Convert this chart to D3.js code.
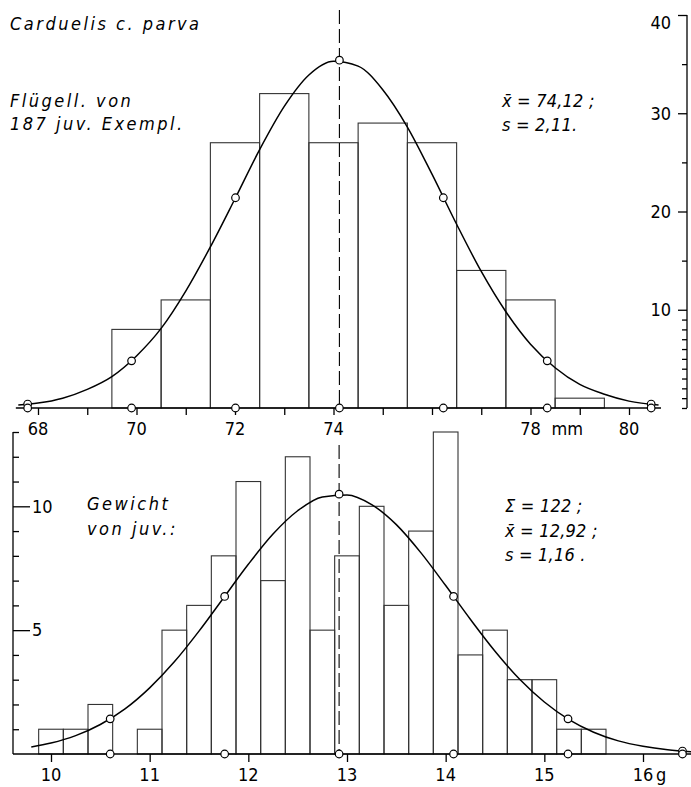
<!DOCTYPE html>
<meta charset='utf-8'>
<style>
body { margin: 0; background: #fff; }
svg { display: block; }
.bar { fill: none; stroke: #333; stroke-width: 1.1; }
.curve { fill: none; stroke: #000; stroke-width: 1.5; }
.dot { fill: #fff; stroke: #000; stroke-width: 1.2; }
.mean { stroke: #000; stroke-width: 1.1; stroke-dasharray: 14 5; }
.base { stroke: #000; stroke-width: 1.4; }
.axis path { display: none; }
.axis line { stroke: #000; stroke-width: 1.3; }
.axis text, .lbl { font-family: 'Liberation Sans Narrow', 'DejaVu Sans Condensed', sans-serif; font-size: 18px; fill: #000; }
.note { font-family: 'Liberation Sans Narrow', 'DejaVu Sans Condensed', sans-serif; font-style: italic; font-size: 18px; letter-spacing: 2.5px; fill: #000; }
.formula { letter-spacing: 0.2px; }
</style>
<svg width='691' height='787'></svg>
<script src='https://cdnjs.cloudflare.com/ajax/libs/d3/7.8.5/d3.min.js'></script>
<script>

// wing length histogram (mm), bin centres and counts
var wingBins = [70, 71, 72, 73, 74, 75, 76, 77, 78, 79],
    wingCounts = [8, 11, 27, 32, 27, 29, 27, 14, 11, 1],
    wingMean = 74.12;

// fitted curve
var wingCurveX = [67.6, 68, 68.5, 69, 69.5, 70, 70.5, 71, 71.5, 72, 72.5, 73, 73.5, 74, 74.5,
                  75, 75.5, 76, 76.5, 77, 77.5, 78, 78.5, 79, 79.5, 80, 80.6],
    wingCurveY = [0.3, 0.5, 1.0, 1.9, 3.2, 5.3, 8.1, 11.9, 16.4, 21.3, 26.3, 30.7, 33.9, 35.3, 34.8,
                  32.4, 28.6, 23.8, 18.7, 13.9, 9.8, 6.5, 4.1, 2.4, 1.4, 0.7, 0.3];
var wingDotX = [67.79, 69.9, 72.01, 74.12, 76.23, 78.34, 80.45],
    wingDotY = [0.4, 4.8, 21.4, 35.4, 21.4, 4.8, 0.4];

var wingTicks = [68, 69, 70, 71, 72, 73, 74, 75, 76, 77, 78, 79, 80],
    wingLabels = [68, 70, 72, 74, 78, 80],
    wingYMajor = [10, 20, 30, 40],
    wingYMinor = [0, 1, 2, 3, 4, 5, 6, 7, 8, 9, 15, 25, 35];

// weight histogram (g)
var weightBins = [10, 10.25, 10.5, 10.75, 11, 11.25, 11.5, 11.75, 12, 12.25, 12.5, 12.75,
                  13, 13.25, 13.5, 13.75, 14, 14.25, 14.5, 14.75, 15, 15.25, 15.5],
    weightCounts = [1, 1, 2, 0, 1, 5, 6, 8, 11, 7, 12, 5, 8, 10, 6, 9, 13, 4, 5, 3, 3, 1, 1],
    weightMean = 12.92;

var weightCurveX = [9.8, 10, 10.25, 10.5, 10.75, 11, 11.25, 11.5, 11.75, 12, 12.25, 12.5, 12.75, 13,
                    13.25, 13.5, 13.75, 14, 14.25, 14.5, 14.75, 15, 15.25, 15.5, 15.75, 16, 16.25, 16.5],
    weightCurveY = [0.28, 0.44, 0.74, 1.19, 1.82, 2.67, 3.72, 4.96, 6.31, 7.66, 8.88, 9.82, 10.38, 10.46,
                    10.07, 9.26, 8.12, 6.8, 5.44, 4.15, 3.02, 2.1, 1.39, 0.88, 0.53, 0.31, 0.17, 0.09];
var weightDotX = [10.6, 11.76, 12.92, 14.08, 15.24, 16.4],
    weightDotY = [1.42, 6.36, 10.49, 6.36, 1.42, 0.12];

var weightTicks = [10, 11, 12, 13, 14, 15, 16],
    weightYMajor = [5, 10],
    weightYMinor = [1, 2, 3, 4, 6, 7, 8, 9, 11, 12, 13];

var svg = d3.select('svg');

// ---------- upper panel ----------
const xTop = d3.scaleLinear().domain([68, 80]).range([38, 629]),
    yTop = d3.scaleLinear().domain([0, 40]).range([408, 15]);

const upper = svg.append('g');

upper.selectAll('rect')
    .data(wingBins)
    .enter().append('rect')
    .attr('class', 'bar')
    .attr('x', d => xTop(d - 0.5))
    .attr('width', xTop(1) - xTop(0))
    .attr('y', (d, i) => yTop(wingCounts[i]))
    .attr('height', (d, i) => yTop(0) - yTop(wingCounts[i]));

upper.append('line').attr('class', 'mean')
    .attr('x1', xTop(wingMean)).attr('x2', xTop(wingMean))
    .attr('y1', 10).attr('y2', yTop(0));

upper.append('line').attr('class', 'base')
    .attr('x1', xTop(67.55)).attr('x2', xTop(80.65))
    .attr('y1', yTop(0)).attr('y2', yTop(0));

upper.append('path').attr('class', 'curve')
    .attr('d', d3.line().curve(d3.curveMonotoneX)
        .x(d => xTop(d))
        .y((d, i) => yTop(wingCurveY[i]))(wingCurveX));

upper.append('g').attr('class', 'axis')
    .attr('transform', `translate(0,${yTop(0)})`)
    .call(d3.axisBottom(xTop).tickValues(wingTicks).tickSize(7).tickFormat(''));

upper.selectAll('.xl')
    .data(wingLabels)
    .enter().append('text')
    .attr('class', 'lbl')
    .attr('x', d => xTop(d))
    .attr('y', 435)
    .attr('text-anchor', 'middle')
    .text(d => d);
upper.append('text').attr('class', 'lbl')
    .attr('x', xTop(78) + 21).attr('y', 435)
    .text('mm');

const rightAxis = upper.append('g').attr('class', 'axis')
    .attr('transform', 'translate(687,0)');
rightAxis.call(d3.axisLeft(yTop).tickValues(wingYMinor).tickSize(5).tickFormat(''));
rightAxis.append('g').call(d3.axisLeft(yTop).tickValues(wingYMajor).tickSize(9).tickPadding(7));
rightAxis.selectAll('text').filter(d => d === 40).attr('dy', '0.75em');
rightAxis.append('line').attr('y1', yTop(40)).attr('y2', yTop(0));

upper.selectAll('.dc')
    .data(wingDotX)
    .enter().append('circle')
    .attr('class', 'dot')
    .attr('r', 3.8)
    .attr('cx', d => xTop(d))
    .attr('cy', (d, i) => yTop(wingDotY[i]));
upper.selectAll('.db')
    .data(wingDotX)
    .enter().append('circle')
    .attr('class', 'dot')
    .attr('r', 3.8)
    .attr('cx', d => xTop(d))
    .attr('cy', yTop(0));

upper.append('text').attr('class', 'note').attr('x', 10).attr('y', 30).text('Carduelis c. parva');
upper.append('text').attr('class', 'note').attr('x', 10).attr('y', 107).text('Flügell. von');
upper.append('text').attr('class', 'note').attr('x', 10).attr('y', 130).text('187 juv. Exempl.');
upper.append('text').attr('class', 'note formula').attr('x', 502).attr('y', 107).text('x̄ = 74,12 ;');
upper.append('text').attr('class', 'note formula').attr('x', 502).attr('y', 131).text('s = 2,11.');

// ---------- lower panel ----------
const xBot = d3.scaleLinear().domain([10, 16]).range([51, 643]),
    yBot = d3.scaleLinear().domain([0, 13]).range([754, 432]);

const lower = svg.append('g');

lower.selectAll('rect')
    .data(weightBins)
    .enter().append('rect')
    .attr('class', 'bar')
    .attr('x', d => xBot(d - 0.125))
    .attr('width', xBot(0.25) - xBot(0))
    .attr('y', (d, i) => yBot(weightCounts[i]))
    .attr('height', (d, i) => yBot(0) - yBot(weightCounts[i]));

lower.append('line').attr('class', 'mean')
    .attr('x1', xBot(weightMean)).attr('x2', xBot(weightMean))
    .attr('y1', 445).attr('y2', yBot(0));

lower.append('line').attr('class', 'base')
    .attr('x1', 13).attr('x2', 691)
    .attr('y1', yBot(0)).attr('y2', yBot(0));

lower.append('path').attr('class', 'curve')
    .attr('d', d3.line().curve(d3.curveMonotoneX)
        .x(d => xBot(d))
        .y((d, i) => yBot(weightCurveY[i]))(weightCurveX));

lower.append('g').attr('class', 'axis')
    .attr('transform', `translate(0,${yBot(0)})`)
    .call(d3.axisBottom(xBot).tickValues(weightTicks).tickSize(8).tickFormat(''));

lower.selectAll('.xl')
    .data(weightTicks)
    .enter().append('text')
    .attr('class', 'lbl')
    .attr('x', d => xBot(d))
    .attr('y', 781)
    .attr('text-anchor', 'middle')
    .text(d => d);
lower.append('text').attr('class', 'lbl')
    .attr('x', xBot(16) + 13).attr('y', 781)
    .text('g');

const leftAxis = lower.append('g').attr('class', 'axis')
    .attr('transform', 'translate(13,0)');
leftAxis.call(d3.axisRight(yBot).tickValues(weightYMinor).tickSize(6).tickFormat(''));
leftAxis.append('g').call(d3.axisRight(yBot).tickValues(weightYMajor).tickSize(17).tickPadding(2));
leftAxis.append('line').attr('y1', yBot(13)).attr('y2', yBot(0));

lower.selectAll('.dc')
    .data(weightDotX)
    .enter().append('circle')
    .attr('class', 'dot')
    .attr('r', 3.8)
    .attr('cx', d => xBot(d))
    .attr('cy', (d, i) => yBot(weightDotY[i]));
lower.selectAll('.db')
    .data(weightDotX)
    .enter().append('circle')
    .attr('class', 'dot')
    .attr('r', 3.8)
    .attr('cx', d => xBot(d))
    .attr('cy', yBot(0));

lower.append('text').attr('class', 'note').attr('x', 87).attr('y', 510).text('Gewicht');
lower.append('text').attr('class', 'note').attr('x', 87).attr('y', 535).text('von juv.:');
lower.append('text').attr('class', 'note formula').attr('x', 505).attr('y', 512).text('Σ = 122 ;');
lower.append('text').attr('class', 'note formula').attr('x', 505).attr('y', 537).text('x̄ = 12,92 ;');
lower.append('text').attr('class', 'note formula').attr('x', 505).attr('y', 561).text('s = 1,16 .');
</script>
